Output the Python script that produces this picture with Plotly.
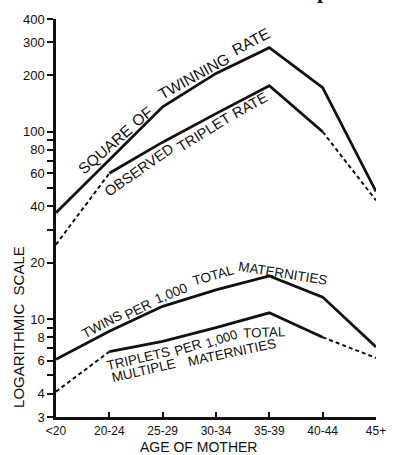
import math
import plotly.graph_objects as go

# ---------------- data ----------------
ages = ["<20", "20-24", "25-29", "30-34", "35-39", "40-44", "45+"]
square_of_twinning_rate = [37, 71, 136, 205, 281, 172, 48]
observed_triplet_rate = [25, 60, 88, 125, 176, 100, 43]
twins_per_1000_total = [6.1, 8.6, 11.7, 14.3, 17.0, 13.1, 7.1]
triplets_per_1000_multiple = [4.1, 6.7, 7.6, 9.0, 10.8, 8.0, 6.2]
# the triplet series are observed (solid) only between these categories
observed_first, observed_last = 1, 5

y_tickvals = [3, 4, 5, 6, 7, 8, 9, 10, 20, 30, 40, 50, 60, 70, 80, 90, 100, 200, 300, 400]
y_ticktext = ["3", "4", "", "6", "", "8", "", "10", "20", "", "40", "", "60", "",
              "80", "", "100", "200", "300", "400"]

# ---------------- layout geometry ----------------
W, H = 398, 455
L, R, T, B = 56, 384, 19, 417
FONT = "Liberation Sans, Arial, sans-serif"
INK = "#111111"


def P(px, py):
    """pixel position -> paper coordinates"""
    return (px - L) / (R - L), (B - py) / (B - T)


fig = go.Figure()

SOLID = dict(color=INK, width=2.8)
DASH = dict(color=INK, width=2.0, dash="4px,3px")

for series in (square_of_twinning_rate, twins_per_1000_total):
    fig.add_trace(go.Scatter(x=ages, y=series, mode="lines", line=SOLID,
                             showlegend=False, hoverinfo="skip", cliponaxis=False))

for series in (observed_triplet_rate, triplets_per_1000_multiple):
    a, b = observed_first, observed_last
    fig.add_trace(go.Scatter(x=ages[:a + 1], y=series[:a + 1], mode="lines", line=DASH,
                             showlegend=False, hoverinfo="skip", cliponaxis=False))
    fig.add_trace(go.Scatter(x=ages[b:], y=series[b:], mode="lines", line=DASH,
                             showlegend=False, hoverinfo="skip", cliponaxis=False))
    fig.add_trace(go.Scatter(x=ages[a:b + 1], y=series[a:b + 1], mode="lines", line=SOLID,
                             showlegend=False, hoverinfo="skip", cliponaxis=False))

# ---------------- labels ----------------
labels = [
    # text, center px, angle, size
    ("SQUARE", (106, 149), -41, 15.5),
    ("OF", (144, 116), -38, 15.5),
    ("TWINNING", (197, 77), -29, 15.5),
    ("RATE", (256, 42), -28, 15.5),

    ("OBSERVED", (141, 170), -35, 14.5),
    ("TRIPLET", (208, 132), -32, 14.5),
    ("RATE", (255, 105), -29, 14.5),

    ("TWINS", (103, 324), -28, 13.5),
    ("PER", (140, 309), -27, 13.5),
    ("1,000", (174, 293), -22, 13.5),
    ("TOTAL", (217, 275), -16, 13.5),
    ("MATERNITIES", (289, 273), 9, 13.5),

    ("TRIPLETS", (141, 358), -13, 13.5),
    ("PER", (191, 347), -18, 13.5),
    ("1,000", (226, 338), -18, 13),
    ("TOTAL", (270, 332), -2, 13.5),
    ("MULTIPLE", (146, 370), -13, 13.5),
    ("MATERNITIES", (236, 352), -12, 13.5),
]
annotations = []
for text, (cx, cy), ang, size in labels:
    x, y = P(cx, cy)
    annotations.append(dict(text=text, x=x, y=y, xref="paper", yref="paper",
                            showarrow=False, textangle=ang, xanchor="center",
                            yanchor="middle", font=dict(family=FONT, size=size, color=INK)))

x, y = P(202, 447)
annotations.append(dict(text="AGE OF MOTHER", x=x, y=y, xref="paper", yref="paper",
                        showarrow=False, xanchor="center", yanchor="middle",
                        font=dict(family=FONT, size=14, color=INK)))
x, y = P(17, 327)
annotations.append(dict(text="LOGARITHMIC  SCALE", x=x, y=y, xref="paper", yref="paper",
                        showarrow=False, textangle=-90, xanchor="center", yanchor="middle",
                        font=dict(family=FONT, size=15, color=INK)))
# cropped fragment of the original title at the very top edge
x, y = P(330, 5)
annotations.append(dict(text="<b>p</b>", x=x, y=y, xref="paper", yref="paper",
                        showarrow=False, xanchor="center", yanchor="bottom",
                        font=dict(family="Liberation Serif, serif", size=22, color=INK)))

fig.update_layout(
    width=W, height=H,
    margin=dict(l=L, r=W - R, t=T, b=H - B, pad=0),
    paper_bgcolor="white", plot_bgcolor="white",
    showlegend=False,
    annotations=annotations,
    xaxis=dict(type="category", range=[0, len(ages) - 1], showgrid=False, zeroline=False,
               showline=True, linecolor=INK, linewidth=2.5,
               ticks="inside", ticklen=5, tickwidth=1.5, tickcolor=INK,
               tickfont=dict(family=FONT, size=12, color=INK), ticklabelstandoff=1),
    yaxis=dict(type="log", range=[math.log10(3), math.log10(400)], showgrid=False,
               zeroline=False, showline=True, linecolor=INK, linewidth=2.5,
               tickmode="array", tickvals=y_tickvals, ticktext=y_ticktext,
               ticks="outside", ticklen=6, tickwidth=1.5, tickcolor=INK,
               tickfont=dict(family=FONT, size=13, color=INK)),
)

fig.write_html("out.html", config={"displayModeBar": False},
               post_script="document.body.style.margin='0';document.body.style.overflow='hidden';")
